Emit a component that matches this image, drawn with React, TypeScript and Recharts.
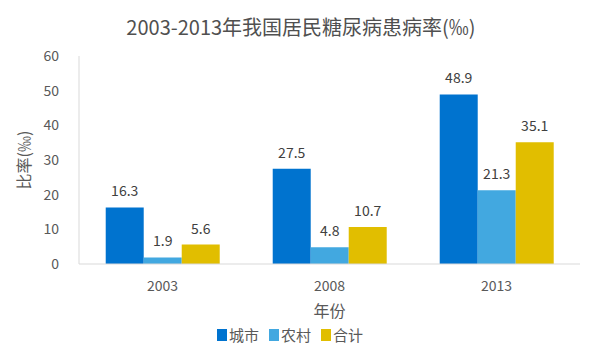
import { Bar, BarChart, LabelList, Legend, XAxis, YAxis } from "recharts";

const years = ["2003", "2008", "2013"];
const urban = [16.3, 27.5, 48.9];
const rural = [1.9, 4.8, 21.3];
const total = [5.6, 10.7, 35.1];
const yTicks = [0, 10, 20, 30, 40, 50, 60];

const data = years.map((year, i) => ({
  year,
  城市: urban[i],
  农村: rural[i],
  合计: total[i],
}));

const font = "'Noto Sans CJK SC', 'Noto Sans', sans-serif";
const series = [
  { key: "城市", color: "#0073CF" },
  { key: "农村", color: "#42A8E0" },
  { key: "合计", color: "#E1BE00" },
];

function LegendContent() {
  return (
    <div style={{ display: "flex", justifyContent: "center", gap: 10, fontFamily: font, fontSize: 15, color: "#595959" }}>
      {series.map((s) => (
        <span key={s.key} style={{ display: "flex", alignItems: "center" }}>
          <span style={{ width: 10, height: 12, background: s.color, marginRight: 2, display: "inline-block" }} />
          {s.key}
        </span>
      ))}
    </div>
  );
}

export default function App() {
  return (
    <div style={{ position: "absolute", left: 0, top: 0, width: 602, height: 356, background: "#fff", fontFamily: font }}>
      <div
        style={{
          position: "absolute",
          top: 12,
          width: 602,
          textAlign: "center",
          fontSize: 20,
          fontWeight: 400,
          color: "#505050",
        }}
      >
        2003-2013年我国居民糖尿病患病率(‰)
      </div>
      <BarChart
        width={602}
        height={356}
        data={data}
        margin={{ top: 56, right: 22, left: 0, bottom: 8 }}
        barCategoryGap="16%"
        barGap={0}
      >
        <XAxis
          dataKey="year"
          axisLine={{ stroke: "#D9D9D9" }}
          tickLine={false}
          tick={{ fill: "#595959", fontSize: 14 }}
          tickMargin={11}
          height={60}
          label={{ value: "年份", position: "insideBottom", offset: 7, fill: "#595959", fontSize: 16 }}
        />
        <YAxis
          domain={[0, 60]}
          ticks={yTicks}
          axisLine={{ stroke: "#D9D9D9" }}
          tickLine={false}
          tick={{ fill: "#595959", fontSize: 14 }}
          tickMargin={14}
          width={79}
          label={{ value: "比率(‰)", angle: -90, position: "insideLeft", offset: 24, fill: "#595959", fontSize: 16, style: { textAnchor: "middle" } }}
        />
        <Legend verticalAlign="bottom" height={24} content={<LegendContent />} />
        {series.map((s) => (
          <Bar key={s.key} dataKey={s.key} fill={s.color} isAnimationActive={false}>
            <LabelList dataKey={s.key} position="top" offset={11} fill="#404040" fontSize={14} />
          </Bar>
        ))}
      </BarChart>
    </div>
  );
}
